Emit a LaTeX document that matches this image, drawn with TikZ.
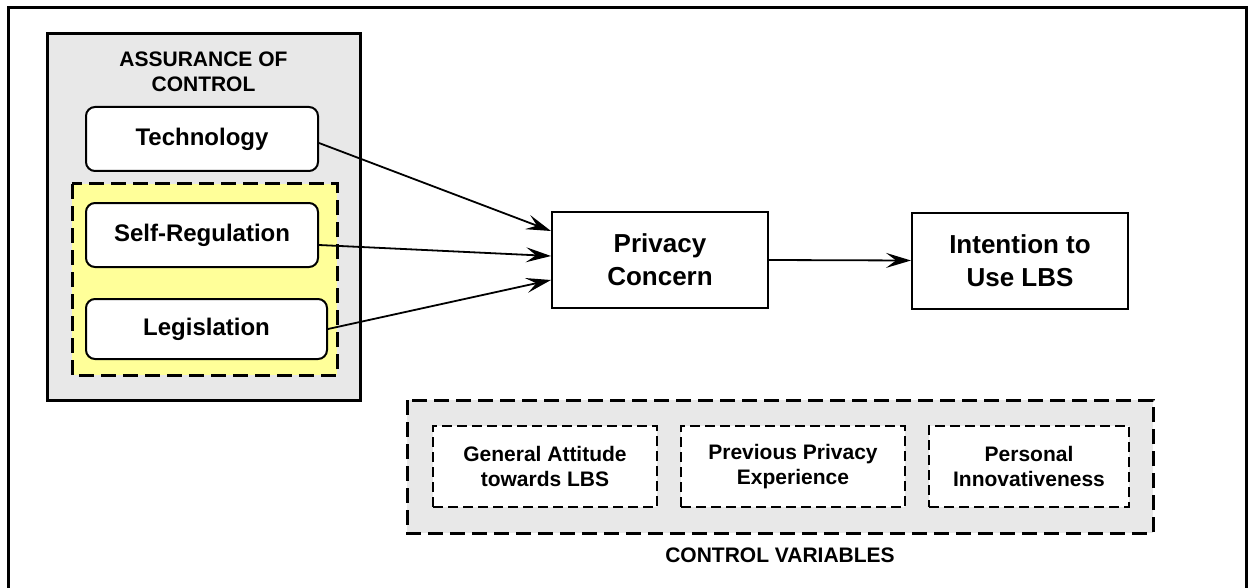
\documentclass[tikz,border=0pt]{standalone}
\usepackage{fontspec}
\setmainfont{Liberation Sans}
\usetikzlibrary{arrows.meta}

\definecolor{boxgray}{RGB}{232,232,232}
\definecolor{paleyellow}{RGB}{255,255,153}

\begin{document}
\begin{tikzpicture}[x=1pt,y=-1pt,
		factor/.style={draw,fill=white,line width=2pt,rounded corners=9pt,font=\fontsize{24}{28}\selectfont\bfseries},
		mainbox/.style={draw,fill=white,line width=2pt,align=center,minimum width=216pt,minimum height=96pt,font=\fontsize{26}{33}\selectfont\bfseries},
		ctrlvar/.style={draw,fill=white,line width=2pt,dash pattern=on 10pt off 5pt,align=center,minimum height=81pt,font=\fontsize{21}{25}\selectfont\bfseries},
		groupbox/.style={line width=3pt},
		caption/.style={align=center,font=\fontsize{21}{25}\selectfont\bfseries},
		arr/.style={-{Stealth[length=25pt,width=15pt,inset=10pt]},line width=1.8pt}]
		
		\useasboundingbox (0,0) rectangle (1249,588);
		
		%frame
		\draw[line width=3pt] (8,600) -- (8,8) -- (1246,8) -- (1246,600);
		
		%assurance of control
		\draw[groupbox,fill=boxgray] (47,34) rectangle (360,400);
		\node[caption] (assurance) at (203.5,72) {ASSURANCE OF\\CONTROL};
		\draw[groupbox,fill=paleyellow,dash pattern=on 15pt off 7pt] (72,184) rectangle (337,375);
		
		\node[factor,minimum width=232pt,minimum height=64pt] (tech) at (202,139) {Technology};
		\node[factor,minimum width=232pt,minimum height=64pt] (selfreg) at (202,235) {Self-Regulation};
		\node[factor,minimum width=241pt,minimum height=60pt] (legis) at (206.5,329) {Legislation};
		
		%model
		\node[mainbox] (privacy) at (660,260) {Privacy\\Concern};
		\node[mainbox] (intention) at (1020,260.5) {Intention to\\Use LBS};
		
		\draw[arr] ([yshift=-4pt]tech.east) -- ([yshift=29pt]privacy.west);
		\draw[arr] ([yshift=-10pt]selfreg.east) -- ([yshift=4pt]privacy.west);
		\draw[arr] (legis.east) -- ([yshift=-20pt]privacy.west);
		\draw[arr] (privacy.east) -- (intention.west);
		
		%control variables
		\draw[groupbox,fill=boxgray,dash pattern=on 15pt off 7pt] (407,400) rectangle (1153,533);
		\foreach \x/\w/\nm/\txt in {545/224/attitude/{General Attitude\\towards LBS},793/224/experience/{Previous Privacy\\Experience},1029/200/innovative/{Personal\\Innovativeness}}
		{
			\node[ctrlvar,minimum width=\w pt] (\nm) at (\x,466.5) {\txt};
		}
		\node[caption] (controls) at (780,555) {CONTROL VARIABLES};
		
	\end{tikzpicture}
\end{document}
